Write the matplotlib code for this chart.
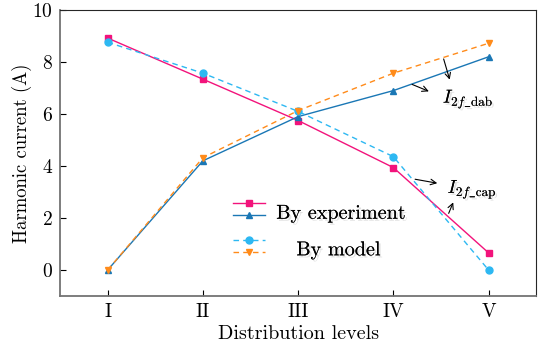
import numpy as np
import matplotlib
matplotlib.use("Agg")
import matplotlib.pyplot as plt
import matplotlib.patheffects as pe
from matplotlib.legend_handler import HandlerBase

plt.rcParams["font.family"] = "serif"
plt.rcParams["font.serif"] = ["cmr10", "DejaVu Serif"]
plt.rcParams["mathtext.fontset"] = "cm"
plt.rcParams["axes.formatter.use_mathtext"] = True

# ---------- data ----------
levels = ["I", "II", "III", "IV", "V"]
exp_cap = [8.92, 7.34, 5.75, 3.94, 0.66]
model_cap = [8.76, 7.57, 6.10, 4.36, 0.0]
exp_dab = [0.0, 4.20, 5.90, 6.90, 8.20]
model_dab = [0.0, 4.32, 6.13, 7.57, 8.72]

c_exp_cap = "#f2137b"
c_exp_dab = "#1a77b5"
c_mod_cap = "#2db8f2"
c_mod_dab = "#ff8b1a"

shadow = [pe.withSimplePatchShadow(offset=(1.5, -1.5), shadow_rgbFace="0.55", alpha=0.25), pe.Normal()]


class HandlerStack(HandlerBase):
    """draw a tuple of lines stacked vertically in one legend row"""
    def create_artists(self, legend, orig_handle, xdescent, ydescent, width, height, fontsize, trans):
        artists = []
        n = len(orig_handle)
        step = height * 0.5
        hmap = legend.get_legend_handler_map()
        for i, h in enumerate(orig_handle):
            shift = ((n - 1) / 2 - i) * step
            handler = legend.get_legend_handler(hmap, h)
            artists += handler.create_artists(legend, h, xdescent, ydescent - 2 * shift,
                                              width, height, fontsize, trans)
        return artists


x = np.arange(1, len(levels) + 1)

fig = plt.figure(figsize=(5.46, 3.45), dpi=100)
ax = fig.add_axes([0.110, 0.142, 0.872, 0.829])

l1, = ax.plot(x, exp_cap, "-s", color=c_exp_cap, lw=1.0, ms=4.5)
l2, = ax.plot(x, exp_dab, "-^", color=c_exp_dab, lw=1.0, ms=5)
l3, = ax.plot(x, model_cap, "--o", color=c_mod_cap, lw=1.0, ms=5, dashes=(4, 3))
l4, = ax.plot(x, model_dab, "--v", color=c_mod_dab, lw=1.0, ms=5, dashes=(4, 3))

ax.set_xlim(0.5, 5.5)
ax.set_ylim(-1, 10)
ax.set_xticks(x)
ax.set_xticklabels(levels)
ax.set_yticks([0, 2, 4, 6, 8, 10])
ax.tick_params(direction="in", labelsize=14, length=4, width=0.8, pad=5)
ax.set_xlabel("Distribution levels", fontsize=14.5, labelpad=3)
ax.set_ylabel("Harmonic current (A)", fontsize=13.5, labelpad=0)

for side in ["left", "bottom"]:
    ax.spines[side].set_color("0.45")
    ax.spines[side].set_linewidth(1.3)
for side in ["top", "right"]:
    ax.spines[side].set_color("0.15")
    ax.spines[side].set_linewidth(0.8)

leg = ax.legend([(l1, l2), (l3, l4)], ["By experiment", "   By model"],
                handler_map={tuple: HandlerStack()},
                loc="upper left", bbox_to_anchor=(0.325, 0.40), frameon=False,
                fontsize=14.5, handlelength=1.6, handleheight=1.5, labelspacing=0.6,
                handletextpad=0.55)
for t in leg.get_texts():
    t.set_path_effects(shadow)

# annotations
arrow = dict(arrowstyle="->", color="black", lw=0.8)
t1 = ax.text(4.52, 6.55, r"$I_{2f\_\mathrm{dab}}$", fontsize=13.5, va="center", ha="left")
ax.annotate("", xy=(4.40, 6.83), xytext=(4.17, 7.18), arrowprops=arrow)
ax.annotate("", xy=(4.60, 7.22), xytext=(4.52, 8.22), arrowprops=arrow)
t2 = ax.text(4.57, 3.08, r"$I_{2f\_\mathrm{cap}}$", fontsize=13.5, va="center", ha="left")
ax.annotate("", xy=(4.49, 3.32), xytext=(4.20, 3.51), arrowprops=arrow)
ax.annotate("", xy=(4.64, 2.70), xytext=(4.57, 2.08), arrowprops=arrow)
for t in (t1, t2):
    t.set_path_effects(shadow)

fig.savefig("out.png", dpi=100)
